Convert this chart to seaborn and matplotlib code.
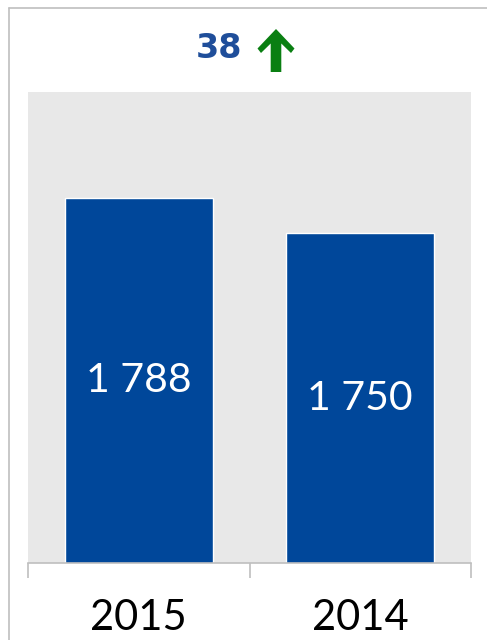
import pandas as pd
import seaborn as sns
import matplotlib.pyplot as plt
from matplotlib.lines import Line2D
from matplotlib.patches import Polygon

# =============================================================================
# Data
# =============================================================================
years = ["2015", "2014"]
members = [1788, 1750]
change = members[0] - members[1]

bar_color = "#00479A"
title_color = "#1F4E9A"
arrow_color = "#0A7F12"
grid_gray = "#BFBFBF"

df = pd.DataFrame({"Year": years, "Value": members})

# =============================================================================
# Figure
# =============================================================================
sns.set_theme(style="white")
plt.rcParams["font.family"] = ["Lato", "DejaVu Sans"]

W, H = 487, 640
fig = plt.figure(figsize=(W / 100, H / 100), dpi=100)
fig.patch.set_facecolor("white")

ax = fig.add_axes([28 / W, 1 - 563 / H, (471 - 28) / W, (563 - 92) / H])
ax.set_facecolor("#E8E8E8")

sns.barplot(
    data=df,
    x="Year",
    y="Value",
    order=years,
    color=bar_color,
    saturation=1,
    width=0.67,
    ax=ax,
)

ax.set_xlim(-0.5, 1.5)
ax.set_ylim(1400, 1900)

labels = [f"{v:,}".replace(",", " ") for v in members]
ax.bar_label(ax.containers[0], labels=labels, label_type="center",
             color="white", fontsize=29.5)

# axes styling
for side in ["top", "left", "right"]:
    ax.spines[side].set_visible(False)
ax.spines["bottom"].set_color(grid_gray)
ax.spines["bottom"].set_linewidth(1.2)
ax.set_yticks([])
ax.set_xlabel("")
ax.set_ylabel("")

ax.set_xticks([0, 1])
ax.set_xticklabels(years)
ax.set_xticks([-0.5, 0.5, 1.5], minor=True)
ax.tick_params(axis="x", which="major", length=0, pad=26, labelsize=30,
               labelcolor="black")
ax.tick_params(axis="x", which="minor", length=11, width=1.2,
               color=grid_gray, bottom=True)

# title: change with arrow
fig.text(219.5 / W, 1 - 58 / H, f"{change}", ha="center", va="baseline",
         fontsize=24, fontweight="bold", color=title_color,
         family="DejaVu Sans")

c = 276
arrow_px = [(c, 29), (c + 18.5, 48.5), (c + 15, 53), (c + 5.3, 43.5),
            (c + 5.3, 72), (c - 5.3, 72), (c - 5.3, 43.5), (c - 15, 53),
            (c - 18.5, 48.5)]
arrow = Polygon([(x / W, 1 - y / H) for x, y in arrow_px], closed=True,
                transform=fig.transFigure, facecolor=arrow_color,
                edgecolor="none")
fig.add_artist(arrow)

# outer frame (top and left)
fig.add_artist(Line2D([9 / W, 1], [1 - 8 / H, 1 - 8 / H],
                      transform=fig.transFigure, color=grid_gray, lw=1.2))
fig.add_artist(Line2D([9 / W, 9 / W], [0, 1 - 8 / H],
                      transform=fig.transFigure, color=grid_gray, lw=1.2))

fig.savefig("out.png", dpi=100)
